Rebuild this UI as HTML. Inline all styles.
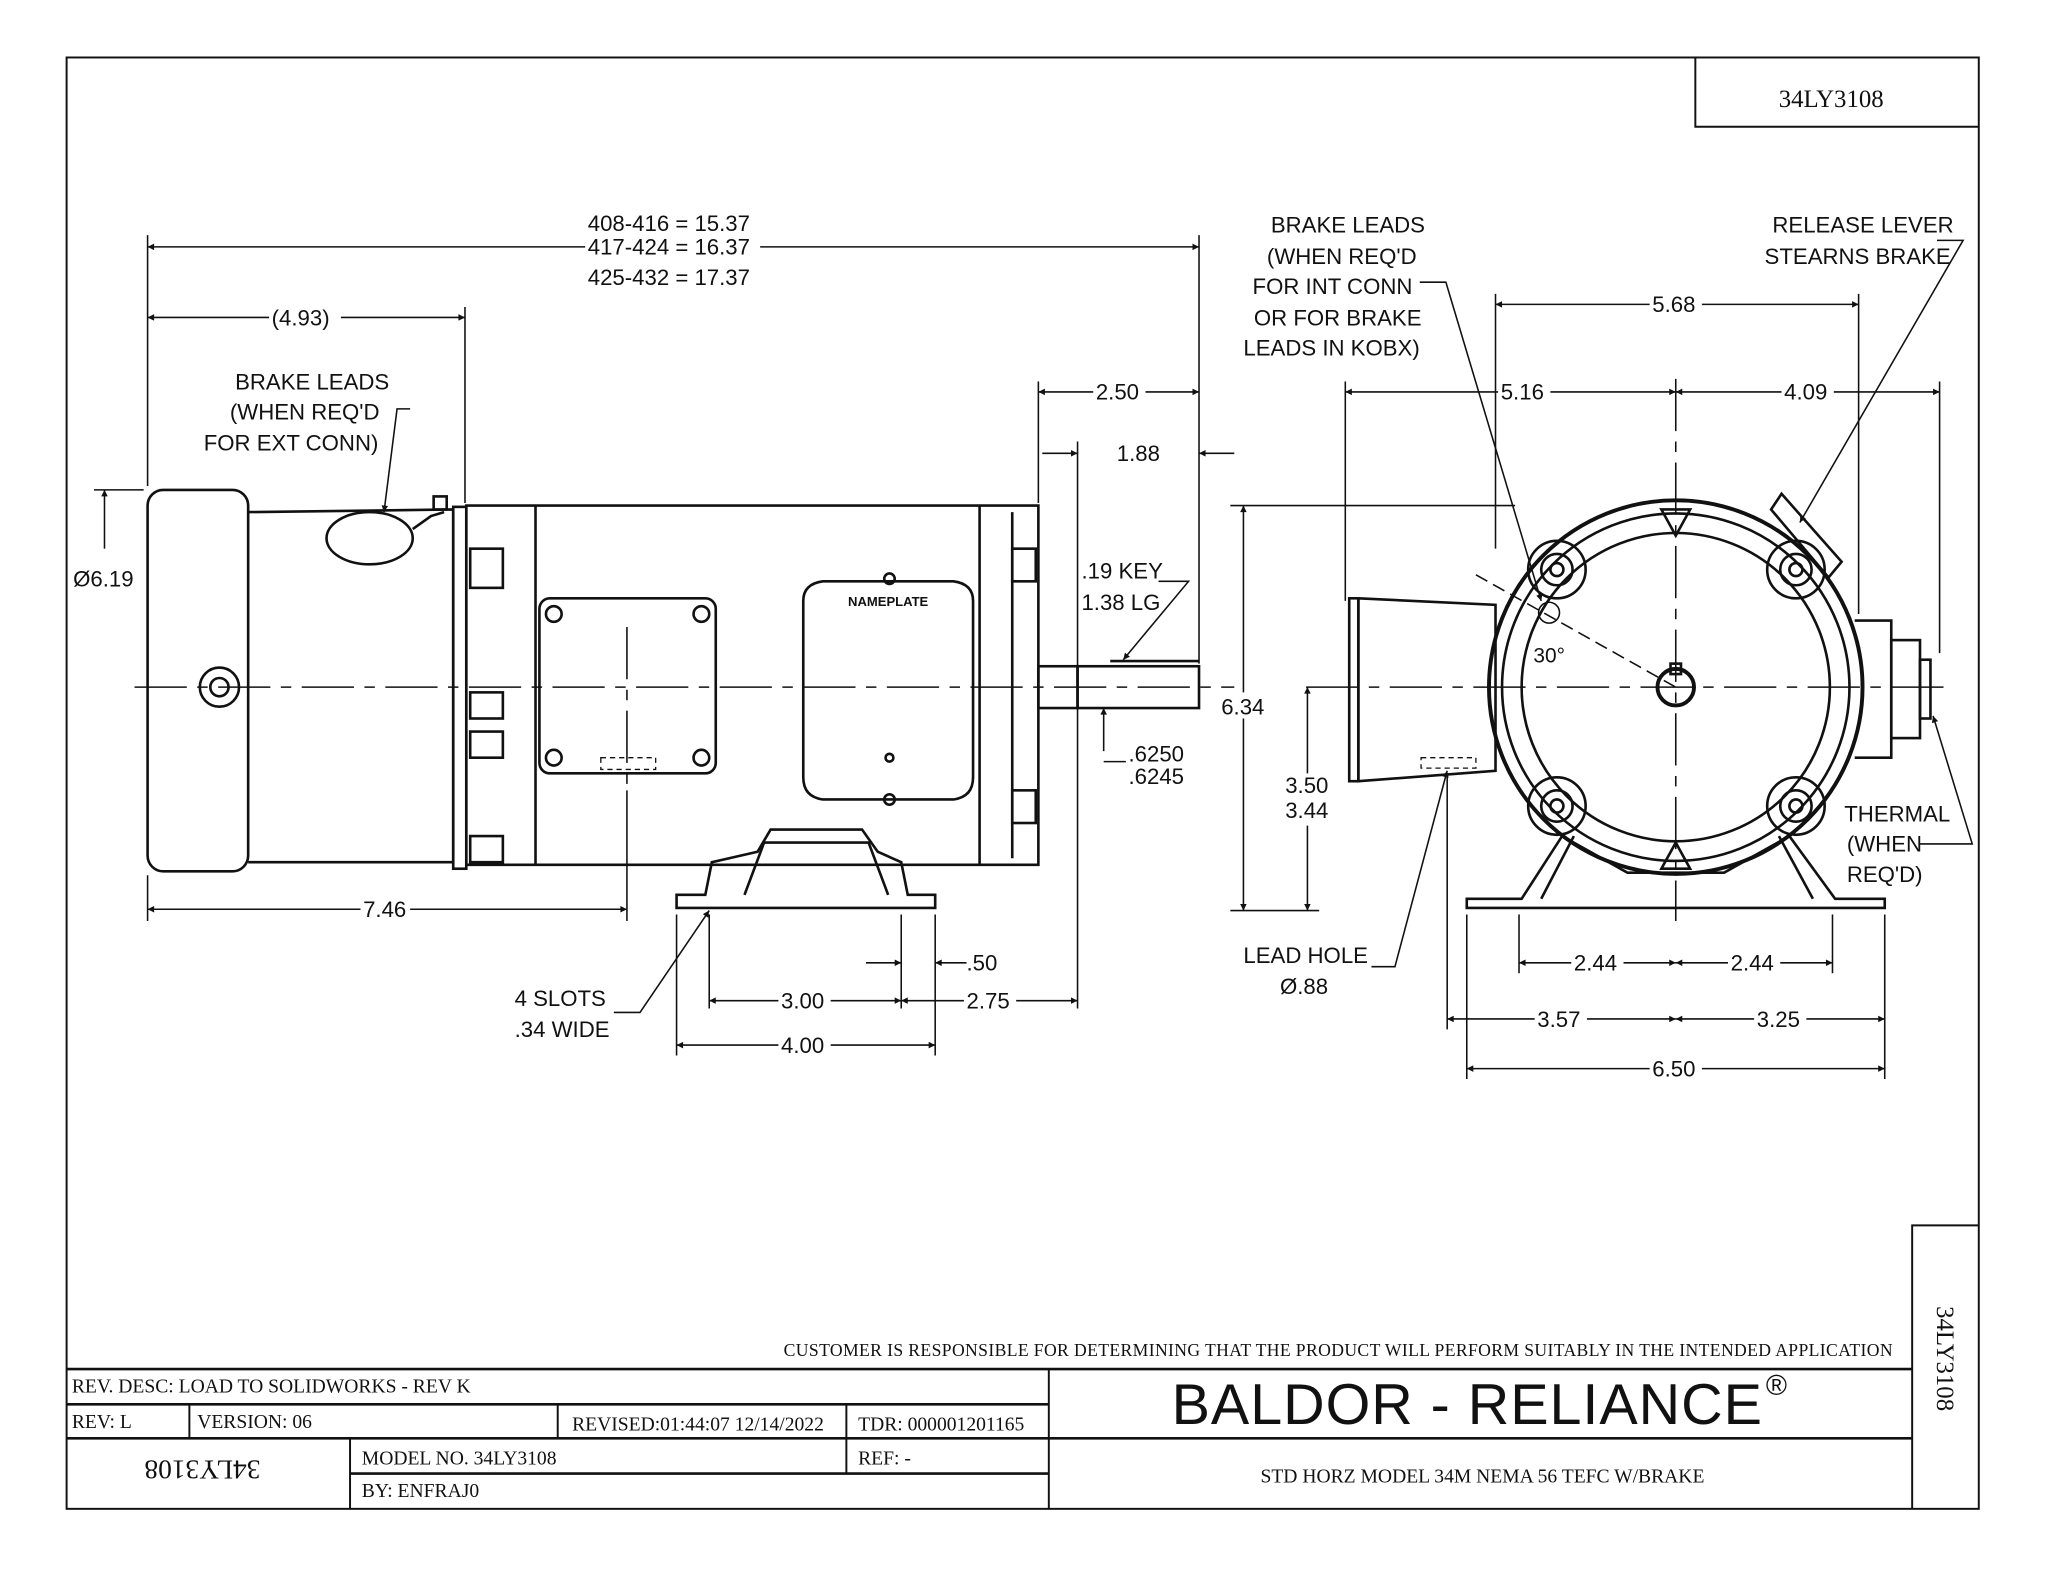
<!DOCTYPE html>
<html><head><meta charset="utf-8"><style>
html,body{margin:0;padding:0;background:#fff;}
svg{display:block;}
text{font-family:"Liberation Sans",sans-serif;fill:#111;}
.s{font-family:"Liberation Serif",serif;}
</style></head><body>
<svg width="2048" height="1582" viewBox="0 0 1568 1211" preserveAspectRatio="none" xmlns="http://www.w3.org/2000/svg">
<defs>
<marker id="a" viewBox="0 0 10 10" refX="10" refY="5" markerWidth="8" markerHeight="5" orient="auto-start-reverse" markerUnits="userSpaceOnUse"><path d="M0,0 L10,5 L0,10 z" fill="#111"/></marker>
</defs>
<rect width="1568" height="1211" fill="#fff"/>
<g fill="none" stroke="#111" stroke-width="1.5">
<!-- frame -->
<rect x="51" y="44" width="1464" height="1111"/>
<polyline points="1298,44 1298,97 1515,97"/>
<polyline points="1464,1155 1464,938 1515,938"/>
<!-- title block -->
<line x1="51" y1="1048" x2="1464" y2="1048" stroke-width="2"/>
<line x1="51" y1="1075" x2="803" y2="1075" stroke-width="2"/>
<line x1="51" y1="1101" x2="1464" y2="1101" stroke-width="2"/>
<line x1="268" y1="1128" x2="803" y2="1128" stroke-width="2"/>
<line x1="803" y1="1048" x2="803" y2="1155"/>
<line x1="145" y1="1075" x2="145" y2="1101"/>
<line x1="427" y1="1075" x2="427" y2="1101"/>
<line x1="648" y1="1075" x2="648" y2="1128"/>
<line x1="268" y1="1101" x2="268" y2="1155"/>
</g>
<g class="s">
<text x="1402" y="82" font-size="19" text-anchor="middle" class="s" style="font-family:'Liberation Serif',serif">34LY3108</text>
<text x="1449" y="1038" font-size="13.5" text-anchor="end" style="font-family:'Liberation Serif',serif" textLength="849">CUSTOMER IS RESPONSIBLE FOR DETERMINING THAT THE PRODUCT WILL PERFORM SUITABLY IN THE INTENDED APPLICATION</text>
<text x="55" y="1066" font-size="15" style="font-family:'Liberation Serif',serif">REV. DESC: LOAD TO SOLIDWORKS - REV K</text>
<text x="55" y="1093" font-size="15" style="font-family:'Liberation Serif',serif">REV:  L</text>
<text x="151" y="1093" font-size="15" style="font-family:'Liberation Serif',serif">VERSION: 06</text>
<text x="438" y="1095" font-size="15" style="font-family:'Liberation Serif',serif">REVISED:01:44:07 12/14/2022</text>
<text x="657" y="1095" font-size="15" style="font-family:'Liberation Serif',serif">TDR: 000001201165</text>
<text x="277" y="1121" font-size="15" style="font-family:'Liberation Serif',serif">MODEL NO. 34LY3108</text>
<text x="657" y="1121" font-size="15" style="font-family:'Liberation Serif',serif">REF:  -</text>
<text x="277" y="1146" font-size="15" style="font-family:'Liberation Serif',serif">BY:    ENFRAJ0</text>
<text x="1135" y="1135" font-size="15" text-anchor="middle" style="font-family:'Liberation Serif',serif">STD HORZ MODEL 34M NEMA 56 TEFC W/BRAKE</text>
<text transform="translate(155,1118) rotate(180)" font-size="21" text-anchor="middle" style="font-family:'Liberation Serif',serif">34LY3108</text>
<text transform="translate(1483,1040) rotate(90)" font-size="19" text-anchor="middle" style="font-family:'Liberation Serif',serif">34LY3108</text>
</g>
<text x="897" y="1090" font-size="44" textLength="452">BALDOR - RELIANCE</text>
<text x="1352" y="1068" font-size="22">®</text>

<!-- centerlines -->
<g stroke="#111" stroke-width="1.2" fill="none" stroke-dasharray="40,8,8,8">
<line x1="103" y1="526" x2="945" y2="526"/>
<line x1="1000" y1="526" x2="1495" y2="526"/>
<line x1="1283" y1="290" x2="1283" y2="705"/>
<line x1="480" y1="480" x2="480" y2="600"/>
</g>

<!-- LEFT VIEW motor -->
<g fill="none" stroke="#111" stroke-width="2">
<rect x="113" y="375" width="77" height="292" rx="12"/>
<path d="M190,392 L347,390 L347,660 L190,660"/>
<rect x="347" y="388" width="10" height="277"/>
<rect x="357" y="387" width="438" height="275"/>
<line x1="410" y1="387" x2="410" y2="662"/>
<line x1="750" y1="387" x2="750" y2="662"/>
<line x1="775" y1="392" x2="775" y2="657"/>
<ellipse cx="283" cy="412" rx="33" ry="20"/>
<path d="M316,405 L330,395 L340,392"/>
<rect x="332" y="380" width="10" height="10"/>
<circle cx="168" cy="526" r="15"/><circle cx="168" cy="526" r="7"/>
<rect x="413" y="458" width="135" height="134" rx="8"/>
<circle cx="424" cy="470" r="6"/><circle cx="537" cy="470" r="6"/><circle cx="424" cy="580" r="6"/><circle cx="537" cy="580" r="6"/>
<path d="M615,460 Q615,447 630,445 L730,445 Q745,447 745,460 L745,595 Q745,610 730,612 L630,612 Q615,610 615,595 Z"/>
<circle cx="681" cy="443" r="4"/><circle cx="681" cy="612" r="4"/><circle cx="681" cy="580" r="3"/>
<rect x="360" y="420" width="25" height="30"/><rect x="360" y="530" width="25" height="20"/><rect x="360" y="560" width="25" height="20"/><rect x="360" y="640" width="25" height="20"/>
<rect x="775" y="420" width="18" height="25"/><rect x="775" y="605" width="18" height="25"/>
<rect x="795" y="510" width="30" height="32"/>
<rect x="825" y="510" width="93" height="32"/>
<line x1="850" y1="506" x2="918" y2="506"/>
<path d="M518,695 L716,695 L716,685 L695,685 L690,660 L672,652 L660,635 L590,635 L580,652 L545,660 L540,685 L518,685 Z"/>
<path d="M570,685 L585,645 L665,645 L680,685"/>
</g>
<text x="680" y="464" font-size="10" font-weight="bold" text-anchor="middle">NAMEPLATE</text>
<rect x="460" y="580" width="42" height="9" fill="none" stroke="#111" stroke-dasharray="4,3"/>

<!-- RIGHT VIEW -->
<g fill="none" stroke="#111" stroke-width="2">
<circle cx="1283" cy="526" r="143" stroke-width="3"/>
<circle cx="1283" cy="526" r="133"/>
<circle cx="1283" cy="526" r="118"/>
<circle cx="1283" cy="526" r="14" stroke-width="3"/>
<rect x="1279" y="508" width="8" height="8"/>
<g>
<circle cx="1192" cy="436" r="22"/><circle cx="1192" cy="436" r="12"/><circle cx="1192" cy="436" r="5"/>
<circle cx="1375" cy="436" r="22"/><circle cx="1375" cy="436" r="12"/><circle cx="1375" cy="436" r="5"/>
<circle cx="1192" cy="617" r="22"/><circle cx="1192" cy="617" r="12"/><circle cx="1192" cy="617" r="5"/>
<circle cx="1375" cy="617" r="22"/><circle cx="1375" cy="617" r="12"/><circle cx="1375" cy="617" r="5"/>
</g>
<path d="M1272,390 L1294,390 L1283,410 Z"/><path d="M1272,665 L1294,665 L1283,645 Z"/>
<path d="M1040,458 L1145,463 L1145,590 L1040,598 Z"/>
<rect x="1033" y="458" width="7" height="140"/>
<path d="M1420,475 L1448,475 L1448,580 L1420,580"/>
<rect x="1448" y="490" width="22" height="75"/>
<rect x="1470" y="505" width="8" height="45"/>
<path d="M1356,390 L1364,378 L1410,430 L1400,442 Z"/>
<path d="M1123,695 L1443,695 L1443,688 L1405,688 L1370,640 L1320,668 L1246,668 L1196,640 L1165,688 L1123,688 Z"/>
<path d="M1180,688 L1205,640 M1388,688 L1362,640"/>
<circle cx="1186" cy="469" r="8" stroke-width="1.2"/>
</g>
<rect x="1088" y="580" width="42" height="8" fill="none" stroke="#111" stroke-dasharray="4,3"/>
<line x1="1130" y1="440" x2="1283" y2="526" stroke="#111" stroke-width="1.2" stroke-dasharray="10,5"/>
<text x="1174" y="507" font-size="16">30°</text>

<!-- DIMENSIONS -->
<g stroke="#111" stroke-width="1.2" fill="none">
<!-- extension lines -->
<line x1="113" y1="180" x2="113" y2="372"/>
<line x1="918" y1="180" x2="918" y2="508"/>
<line x1="356" y1="235" x2="356" y2="385"/>
<line x1="795" y1="292" x2="795" y2="385"/>
<line x1="825" y1="338" x2="825" y2="772"/>
<line x1="113" y1="670" x2="113" y2="705"/>
<line x1="480" y1="605" x2="480" y2="705"/>
<line x1="518" y1="700" x2="518" y2="808"/>
<line x1="716" y1="700" x2="716" y2="808"/>
<line x1="543" y1="700" x2="543" y2="772"/>
<line x1="690" y1="700" x2="690" y2="772"/>
<line x1="72" y1="375" x2="110" y2="375"/>
<!-- dim lines -->
<line x1="113" y1="189" x2="918" y2="189" marker-start="url(#a)" marker-end="url(#a)"/>
<line x1="113" y1="243" x2="356" y2="243" marker-start="url(#a)" marker-end="url(#a)"/>
<line x1="795" y1="300" x2="918" y2="300" marker-start="url(#a)" marker-end="url(#a)"/>
<line x1="798" y1="347" x2="825" y2="347" marker-end="url(#a)"/>
<line x1="945" y1="347" x2="918" y2="347" marker-end="url(#a)"/>
<line x1="113" y1="696" x2="480" y2="696" marker-start="url(#a)" marker-end="url(#a)"/>
<line x1="543" y1="766" x2="690" y2="766" marker-start="url(#a)" marker-end="url(#a)"/>
<line x1="690" y1="766" x2="825" y2="766" marker-start="url(#a)" marker-end="url(#a)"/>
<line x1="663" y1="737" x2="690" y2="737" marker-end="url(#a)"/>
<line x1="740" y1="737" x2="716" y2="737" marker-end="url(#a)"/>
<line x1="518" y1="800" x2="716" y2="800" marker-start="url(#a)" marker-end="url(#a)"/>
<line x1="80" y1="420" x2="80" y2="375" marker-end="url(#a)"/>
<line x1="845" y1="575" x2="845" y2="542" marker-end="url(#a)"/>
<polyline points="862,583 845,583"/>
<!-- leaders left -->
<polyline points="314,313 304,313 294,392" marker-end="url(#a)"/>
<polyline points="470,775 490,775 543,697" marker-end="url(#a)"/>
<polyline points="887,445 910,445 860,505" marker-end="url(#a)"/>
<!-- right view ext -->
<line x1="1145" y1="225" x2="1145" y2="420"/>
<line x1="1423" y1="225" x2="1423" y2="470"/>
<line x1="1030" y1="292" x2="1030" y2="460"/>
<line x1="1485" y1="292" x2="1485" y2="500"/>
<line x1="942" y1="387" x2="1160" y2="387"/>
<line x1="942" y1="697" x2="1010" y2="697"/>
<line x1="1163" y1="700" x2="1163" y2="745"/>
<line x1="1403" y1="700" x2="1403" y2="745"/>
<line x1="1108" y1="595" x2="1108" y2="788"/>
<line x1="1123" y1="700" x2="1123" y2="826"/>
<line x1="1443" y1="700" x2="1443" y2="826"/>
<line x1="1145" y1="233" x2="1423" y2="233" marker-start="url(#a)" marker-end="url(#a)"/>
<line x1="1030" y1="300" x2="1283" y2="300" marker-start="url(#a)" marker-end="url(#a)"/>
<line x1="1283" y1="300" x2="1485" y2="300" marker-start="url(#a)" marker-end="url(#a)"/>
<line x1="952" y1="387" x2="952" y2="697" marker-start="url(#a)" marker-end="url(#a)"/>
<line x1="1001" y1="526" x2="1001" y2="697" marker-start="url(#a)" marker-end="url(#a)"/>
<line x1="1163" y1="737" x2="1283" y2="737" marker-start="url(#a)" marker-end="url(#a)"/>
<line x1="1283" y1="737" x2="1403" y2="737" marker-start="url(#a)" marker-end="url(#a)"/>
<line x1="1108" y1="780" x2="1283" y2="780" marker-start="url(#a)" marker-end="url(#a)"/>
<line x1="1283" y1="780" x2="1443" y2="780" marker-start="url(#a)" marker-end="url(#a)"/>
<line x1="1123" y1="818" x2="1443" y2="818" marker-start="url(#a)" marker-end="url(#a)"/>
<polyline points="1087,216 1107,216 1180,460" marker-end="url(#a)"/>
<polyline points="1483,184 1503,184 1378,400" marker-end="url(#a)"/>
<polyline points="1470,646 1510,646 1480,548" marker-end="url(#a)"/>
<polyline points="1050,740 1068,740 1108,590" marker-end="url(#a)"/>
</g>
<!-- dimension labels (white backgrounds) -->
<g font-size="17">
<rect x="448" y="162" width="134" height="60" fill="#fff"/>
<text x="450" y="177">408-416 = 15.37</text>
<text x="450" y="195">417-424 = 16.37</text>
<text x="450" y="218">425-432 = 17.37</text>
<rect x="206" y="233" width="55" height="20" fill="#fff"/>
<text x="208" y="249">(4.93)</text>
<text x="180" y="298">BRAKE LEADS</text>
<text x="176" y="321">(WHEN REQ'D</text>
<text x="156" y="345">FOR EXT CONN)</text>
<rect x="837" y="290" width="40" height="20" fill="#fff"/>
<text x="839" y="306">2.50</text>
<text x="855" y="353">1.88</text>
<text x="56" y="449">Ø6.19</text>
<text x="828" y="443">.19 KEY</text>
<text x="828" y="467">1.38 LG</text>
<text x="864" y="583">.6250</text>
<text x="864" y="600">.6245</text>
<rect x="276" y="686" width="38" height="20" fill="#fff"/>
<text x="278" y="702">7.46</text>
<text x="740" y="743">.50</text>
<rect x="596" y="756" width="40" height="20" fill="#fff"/>
<text x="598" y="772">3.00</text>
<rect x="738" y="756" width="40" height="20" fill="#fff"/>
<text x="740" y="772">2.75</text>
<rect x="596" y="790" width="40" height="20" fill="#fff"/>
<text x="598" y="806">4.00</text>
<text x="394" y="770">4 SLOTS</text>
<text x="394" y="794">.34 WIDE</text>
<text x="973" y="178">BRAKE LEADS</text>
<text x="970" y="202">(WHEN REQ'D</text>
<text x="959" y="225">FOR INT CONN</text>
<text x="960" y="249">OR FOR BRAKE</text>
<text x="952" y="272">LEADS IN KOBX)</text>
<text x="1357" y="178">RELEASE LEVER</text>
<text x="1351" y="202">STEARNS BRAKE</text>
<rect x="1263" y="223" width="40" height="20" fill="#fff"/>
<text x="1265" y="239">5.68</text>
<rect x="1147" y="290" width="40" height="20" fill="#fff"/>
<text x="1149" y="306">5.16</text>
<rect x="1364" y="290" width="40" height="20" fill="#fff"/>
<text x="1366" y="306">4.09</text>
<rect x="934" y="530" width="40" height="20" fill="#fff"/>
<text x="935" y="547">6.34</text>
<rect x="982" y="592" width="40" height="40" fill="#fff"/>
<text x="984" y="607">3.50</text>
<text x="984" y="626">3.44</text>
<text x="1412" y="629">THERMAL</text>
<text x="1414" y="652">(WHEN</text>
<text x="1414" y="675">REQ'D)</text>
<text x="952" y="737">LEAD HOLE</text>
<text x="980" y="761">Ø.88</text>
<rect x="1203" y="727" width="40" height="20" fill="#fff"/>
<text x="1205" y="743">2.44</text>
<rect x="1323" y="727" width="40" height="20" fill="#fff"/>
<text x="1325" y="743">2.44</text>
<rect x="1175" y="770" width="40" height="20" fill="#fff"/>
<text x="1177" y="786">3.57</text>
<rect x="1343" y="770" width="40" height="20" fill="#fff"/>
<text x="1345" y="786">3.25</text>
<rect x="1263" y="808" width="40" height="20" fill="#fff"/>
<text x="1265" y="824">6.50</text>
</g>
</svg>
</body></html>
